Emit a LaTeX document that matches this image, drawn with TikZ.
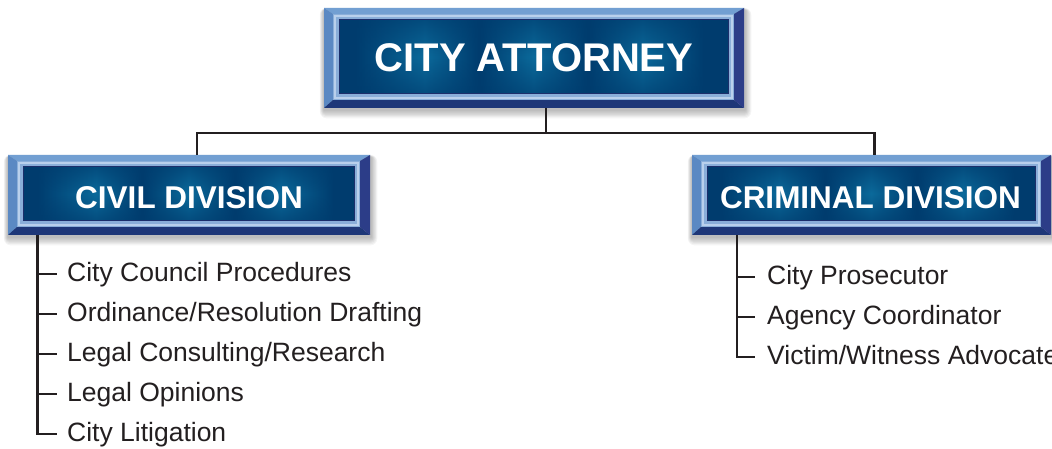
\documentclass[tikz,border=0pt]{standalone}
\usepackage{fontspec}
\setmainfont{Liberation Sans}
\usetikzlibrary{fadings,calc}
\definecolor{dkb}{HTML}{003C6E}
\definecolor{ltb}{HTML}{0B6A9B}
\definecolor{band}{HTML}{8AAED9}
\definecolor{bandhi}{HTML}{B9D0EC}
\definecolor{bvtop}{HTML}{729FD2}
\definecolor{bvleft}{HTML}{5B89C3}
\definecolor{bvbot}{HTML}{1E3778}
\definecolor{bvright}{HTML}{2C3D88}
\definecolor{rim}{HTML}{1C2F6B}
\definecolor{ink}{HTML}{231F20}
\pgfdeclarehorizontalshading{glow}{100bp}{color(0bp)=(dkb); color(27bp)=(dkb); color(36bp)=(ltb); color(43bp)=(dkb); color(50bp)=(ltb); color(57bp)=(dkb); color(64bp)=(ltb); color(72bp)=(dkb); color(100bp)=(dkb)}
\tikzfading[name=edgedark, top color=transparent!35, bottom color=transparent!35, middle color=transparent!100]
\newcommand\bevbox[4]{%
  \foreach \s in {1,...,7}{\fill[black,opacity=0.04,rounded corners=\s pt] ({#1-\s*0.6},{#2-\s*0.3+2}) rectangle ({#3+\s*0.9+1},{#4+\s*1.2+2});}
  \fill[bvtop] (#1,#2) -- (#3,#2) -- ({#3-10},{#2+6}) -- ({#1+9},{#2+6}) -- cycle;
  \fill[bvleft] (#1,#2) -- ({#1+9},{#2+6}) -- ({#1+9},{#4-8}) -- (#1,#4) -- cycle;
  \fill[bvbot] (#1,#4) -- ({#1+9},{#4-8}) -- ({#3-10},{#4-8}) -- (#3,#4) -- cycle;
  \fill[bvright] (#3,#2) -- (#3,#4) -- ({#3-10},{#4-8}) -- ({#3-10},{#2+6}) -- cycle;
  \fill[band] ({#1+9},{#2+6}) rectangle ({#3-10},{#4-8});
  \draw[bandhi,line width=1.8pt] ({#1+11},{#2+8}) rectangle ({#3-12},{#4-10});
  \shade[shading=glow] ({#1+15},{#2+11.5}) rectangle ({#3-16},{#4-14});
  \fill[dkb,path fading=edgedark] ({#1+15},{#2+11.5}) rectangle ({#3-16},{#4-14});
  \draw[rim,line width=1pt] ({#1+15},{#2+11.5}) rectangle ({#3-16},{#4-14});
}
\tikzset{
  boxn/.style={inner sep=0pt, outer sep=0pt},
  head/.style={text=white, inner sep=0pt, font=\bfseries\fontsize{31.5}{32}\selectfont},
  item/.style={anchor=base west, inner sep=0pt, text height=14pt, text depth=0pt, text=ink, font=\fontsize{26.5}{30}\selectfont},
  conn/.style={draw=ink, line width=2.2pt}
}
\begin{document}
\begin{tikzpicture}[x=1pt,y=-1pt]
\useasboundingbox[fill=white] (0,0) rectangle (1052,449);
% boxes
\bevbox{324}{8}{744}{108}
\bevbox{8}{155}{370}{235}
\bevbox{692}{155}{1051}{235}
\node[boxn, minimum width=420pt, minimum height=100pt] (ca) at (534,58) {};
\node[boxn, minimum width=362pt, minimum height=80pt] (civ) at (189,195) {};
\node[boxn, minimum width=359pt, minimum height=80pt] (crim) at (871.5,195) {};
\node[head, font=\bfseries\fontsize{40}{40}\selectfont] (caT) at (534,58) {CITY ATTORNEY};
\node[head] (civT) at (189,197.5) {CIVIL DIVISION};
\node[head] (crimT) at (870.5,197.5) {CRIMINAL DIVISION};
% top connectors
\draw[conn] ([xshift=12pt]ca.south) -- ++(0,25) coordinate (bus);
\draw[conn] ([xshift=8pt]civ.north) -- ++(0,-22) -| ([xshift=3pt]crim.north);
% civil items
\node[item] (c1) at (67,281) {City Council Procedures};
\node[item] (c2) at (67,321) {Ordinance/Resolution Drafting};
\node[item] (c3) at (67,361) {Legal Consulting/Research};
\node[item] (c4) at (67,401) {Legal Opinions};
\node[item] (c5) at (67,441) {City Litigation};
\coordinate (ct) at ([xshift=29.5pt]civ.south west);
\draw[conn] (ct) |- ([xshift=-10pt]c5.west);
\foreach \i in {1,...,4}{\draw[conn] (ct |- c\i.west) -- ([xshift=-10pt]c\i.west);}
% criminal items
\node[item] (r1) at (767,284) {City Prosecutor};
\node[item] (r2) at (767,324) {Agency Coordinator};
\node[item] (r3) at (767,364) {Victim/Witness Advocate};
\coordinate (rt) at ([xshift=45pt]crim.south west);
\draw[conn] (rt) |- ([xshift=-12pt]r3.west);
\foreach \i in {1,2}{\draw[conn] (rt |- r\i.west) -- ([xshift=-12pt]r\i.west);}
\end{tikzpicture}
\end{document}
